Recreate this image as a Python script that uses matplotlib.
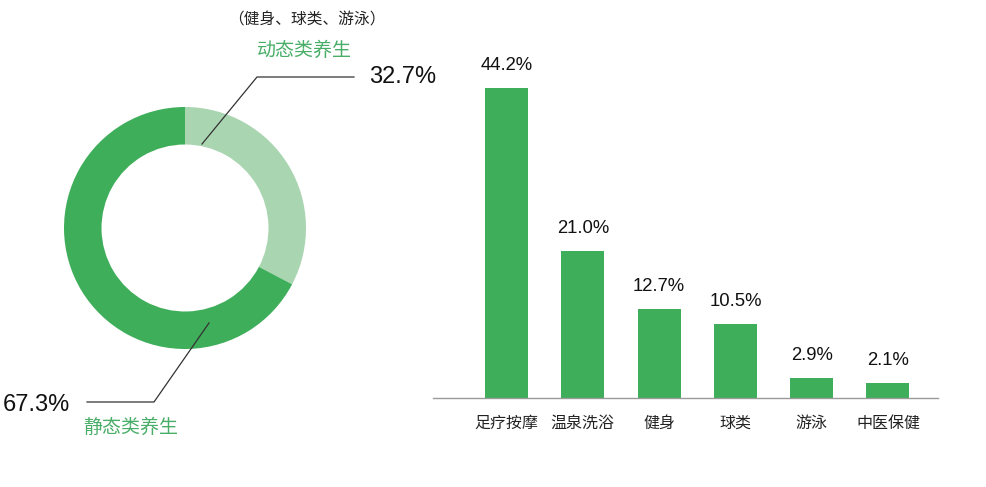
import matplotlib
matplotlib.use("Agg")
import matplotlib.pyplot as plt
from matplotlib.lines import Line2D

plt.rcParams['font.family'] = ['Noto Sans CJK SC', 'DejaVu Sans']

# ---- data ----
donut_labels = ["动态类养生", "静态类养生"]
donut_values = [32.7, 67.3]
donut_note = "（健身、球类、游泳）"

bar_categories = ["足疗按摩", "温泉洗浴", "健身", "球类", "游泳", "中医保健"]
bar_values = [44.2, 21.0, 12.7, 10.5, 2.9, 2.1]

DARK = "#3fae5a"
LIGHT = "#a9d5b1"
TEXT_GREEN = "#48ad66"
NUM_FONT = ['Liberation Sans', 'DejaVu Sans']

W, H = 986, 487
fig = plt.figure(figsize=(W / 100, H / 100), dpi=100)

def fx(px):
    return px / W

def fy(py):
    return 1 - py / H

# ---- donut ----
cx, cy, r = 185, 228, 121
axd = fig.add_axes([fx(cx - r), fy(cy + r), 2 * r / W, 2 * r / H])
axd.pie(donut_values, colors=[LIGHT, DARK], startangle=90, counterclock=False,
        radius=1, wedgeprops=dict(width=0.31, edgecolor='none'))
axd.set_xlim(-1, 1)
axd.set_ylim(-1, 1)
axd.set_aspect('auto')
axd.axis('off')

# ---- bars ----
step = 76.3
x0 = 506.5
left_px, right_px = 433, 938
base_px = 398
top_px = 88
ymax = 50
ax_h = (base_px - top_px) * ymax / bar_values[0]
axb = fig.add_axes([fx(left_px), fy(base_px), (right_px - left_px) / W, ax_h / H])
axb.patch.set_visible(False)
xs = list(range(len(bar_categories)))
axb.bar(xs, bar_values, width=43 / step, color=DARK)
axb.set_xlim(-(x0 - left_px) / step, (right_px - x0) / step)
axb.set_ylim(0, ymax)
for s in ['top', 'right', 'left']:
    axb.spines[s].set_visible(False)
axb.spines['bottom'].set_color('#9a9a9a')
axb.spines['bottom'].set_linewidth(1.0)
axb.set_yticks([])
axb.set_xticks(xs)
axb.set_xticklabels(bar_categories, fontsize=11.5, color='#222222')
axb.tick_params(axis='x', length=0, pad=21.5)
for lab in axb.get_xticklabels():
    lab.set_verticalalignment('baseline')
for x, v in zip(xs, bar_values):
    axb.annotate(f"{v:.1f}%", (x, v), xytext=(0, 10), textcoords='offset points',
                 ha='center', va='bottom', fontsize=13.3, color='#111111', family=NUM_FONT)

# ---- overlay for annotations (pixel coordinates) ----
ov = fig.add_axes([0, 0, 1, 1], facecolor='none', zorder=10)
ov.set_xlim(0, W)
ov.set_ylim(H, 0)
ov.axis('off')

ov.add_line(Line2D([202, 257, 354], [144, 77, 77], color='#333333', lw=0.9))
ov.add_line(Line2D([209, 154, 87], [323, 402, 402], color='#333333', lw=0.9))

ov.text(307, 20, donut_note, fontsize=11.3, color='#222222', ha='center', va='center')
ov.text(304, 50, donut_labels[0], fontsize=13.7, color=TEXT_GREEN, ha='center', va='center')
ov.text(369, 77, f"{donut_values[0]:.1f}%", fontsize=17, color='#111111',
        ha='left', va='center', family=NUM_FONT)
ov.text(3, 405, f"{donut_values[1]:.1f}%", fontsize=17, color='#111111',
        ha='left', va='center', family=NUM_FONT)
ov.text(131, 427, donut_labels[1], fontsize=13.7, color=TEXT_GREEN, ha='center', va='center')

fig.savefig("out.png", dpi=100, facecolor='white')
